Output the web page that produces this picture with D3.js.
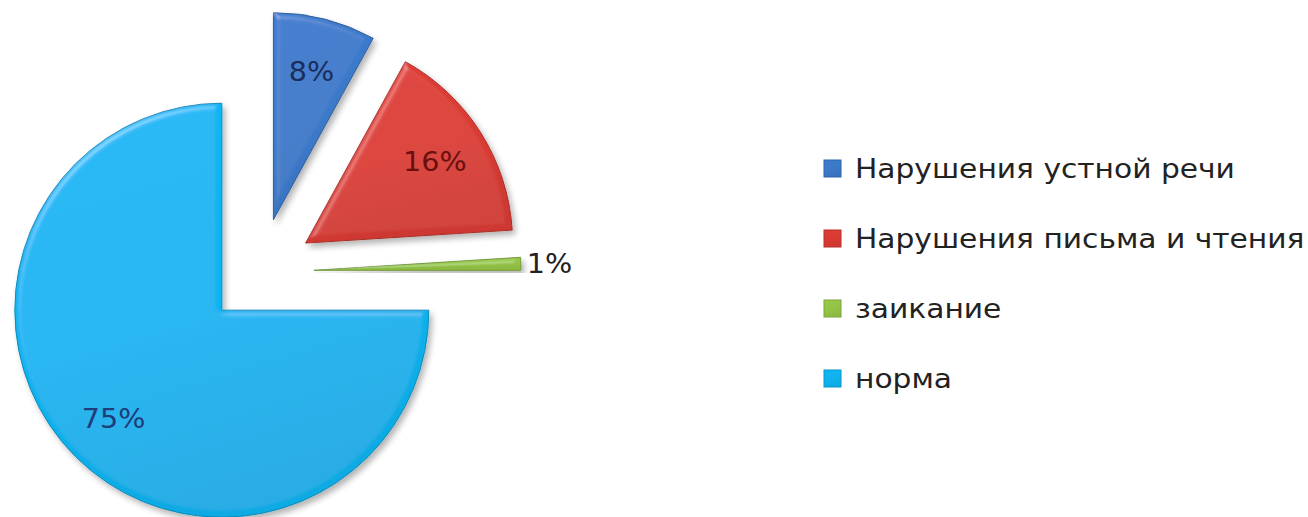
<!DOCTYPE html>
<html>
<head>
<meta charset="utf-8">
<script src="https://cdn.jsdelivr.net/npm/d3@7"></script>
<style>
  html, body { margin: 0; padding: 0; background: #ffffff; }
  svg { display: block; }
</style>
</head>
<body>
<div id="chart"></div>
<script>
// ---- data ----
const categories = ["Нарушения устной речи", "Нарушения письма и чтения", "заикание", "норма"];
const values = [8, 16, 1, 75];
const valueLabels = ["8%", "16%", "1%", "75%"];
const sliceColors = ["#3b79c9", "#d93b33", "#94c446", "#0fb3f0"];
const labelColors = ["#1a2d5c", "#6a0f0f", "#222222", "#1e3d7a"];

// ---- layout ----
const W = 1308, H = 517;
const cx = 260, cy = 272, R = 207, explode = 54;
const labelR = 153;

const svg = d3.select("#chart").append("svg")
  .attr("width", W).attr("height", H)
  .style("font-family", "'DejaVu Sans', Verdana, sans-serif");

const defs = svg.append("defs");

// bevel + shadow filter
const f = defs.append("filter").attr("id", "bevel")
  .attr("x", "-20%").attr("y", "-20%").attr("width", "140%").attr("height", "140%");
f.append("feGaussianBlur").attr("in", "SourceAlpha").attr("stdDeviation", 3).attr("result", "blur");
f.append("feOffset").attr("in", "blur").attr("dx", 3).attr("dy", 4).attr("result", "offBlur");
f.append("feComponentTransfer").attr("in", "offBlur").attr("result", "shadow")
  .append("feFuncA").attr("type", "linear").attr("slope", 0.3);
const spec = f.append("feSpecularLighting").attr("in", "blur").attr("surfaceScale", 4)
  .attr("specularConstant", 0.5).attr("specularExponent", 24)
  .attr("lighting-color", "#ffffff").attr("result", "spec");
spec.append("feDistantLight").attr("azimuth", 235).attr("elevation", 40);
f.append("feComposite").attr("in", "spec").attr("in2", "SourceAlpha").attr("operator", "in").attr("result", "specIn");
f.append("feComposite").attr("in", "SourceGraphic").attr("in2", "specIn")
  .attr("operator", "arithmetic").attr("k1", 0).attr("k2", 1).attr("k3", 0.4).attr("k4", 0).attr("result", "lit");
const merge = f.append("feMerge");
merge.append("feMergeNode").attr("in", "shadow");
merge.append("feMergeNode").attr("in", "lit");

// gradients per slice
sliceColors.forEach((c, i) => {
  const g = defs.append("linearGradient").attr("id", "grad" + i)
    .attr("x1", "0%").attr("y1", "0%").attr("x2", "30%").attr("y2", "100%");
  g.append("stop").attr("offset", "0%").attr("stop-color", d3.color(c).brighter(0.05));
  g.append("stop").attr("offset", "60%").attr("stop-color", c);
  g.append("stop").attr("offset", "100%").attr("stop-color", d3.color(c).darker(0.15));
});

const color = d3.scaleOrdinal().domain(categories).range(sliceColors);

const pie = d3.pie().sort(null).value(d => d.value)
  .startAngle(0).endAngle(2 * Math.PI);
const data = categories.map((c, i) => ({ name: c, value: values[i], label: valueLabels[i], idx: i }));
const arcs = pie(data);
const arc = d3.arc().innerRadius(0).outerRadius(R);

const g = svg.append("g").attr("transform", `translate(${cx},${cy})`);

const slices = g.selectAll("g.slice").data(arcs).join("g")
  .attr("class", "slice")
  .attr("transform", d => {
    const m = (d.startAngle + d.endAngle) / 2;
    return `translate(${Math.sin(m) * explode},${-Math.cos(m) * explode})`;
  });

slices.append("path")
  .attr("d", arc)
  .attr("fill", d => `url(#grad${d.data.idx})`)
  .attr("stroke", d => d3.color(color(d.data.name)).darker(0.7))
  .attr("stroke-width", 1)
  .attr("filter", "url(#bevel)");

slices.append("text")
  .attr("transform", d => {
    const m = (d.startAngle + d.endAngle) / 2;
    const small = d.value < 3;
    const r = small ? R + 6 : labelR;
    return `translate(${Math.sin(m) * r},${-Math.cos(m) * r}) scale(1.06,1)`;
  })
  .attr("text-anchor", d => d.value < 3 ? "start" : "middle")
  .attr("dy", "0.36em")
  .attr("font-size", 27)
  .attr("fill", d => labelColors[d.data.idx])
  .text(d => d.data.label);

// ---- legend ----
const legendY = d3.scalePoint().domain(categories).range([168, 378]);
const lg = svg.append("g");
const items = lg.selectAll("g").data(categories).join("g")
  .attr("transform", d => `translate(0,${legendY(d)})`);
items.append("rect")
  .attr("x", 824).attr("y", -8).attr("width", 17).attr("height", 17)
  .attr("fill", (d, i) => `url(#grad${i})`)
  .attr("stroke", d => d3.color(color(d)).darker(0.5)).attr("stroke-width", 1);
items.append("text")
  .attr("transform", "translate(855,0) scale(1.1,1)")
  .attr("dy", "0.36em")
  .attr("font-size", 27)
  .attr("fill", "#222222")
  .text(d => d);
</script>
</body>
</html>
